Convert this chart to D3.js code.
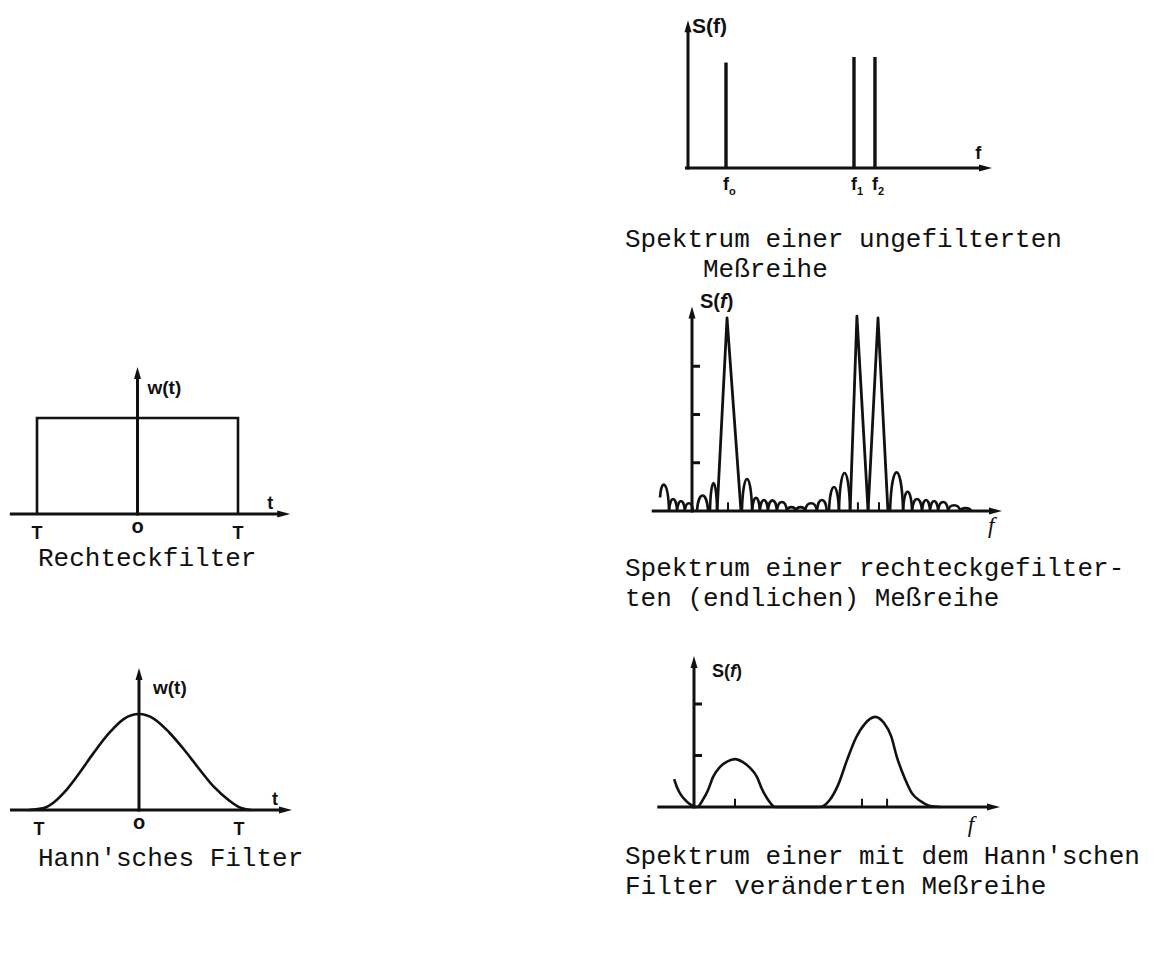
<!DOCTYPE html>
<html>
<head>
<meta charset="utf-8">
<script src="https://cdn.jsdelivr.net/npm/d3@7"></script>
<style>
  body { margin: 0; background: #fff; }
  .caption { font-family: "Liberation Mono", "Courier New", monospace; font-size: 26px; fill: #111; }
  .lbl { font-family: "Liberation Sans", Arial, sans-serif; fill: #111; font-weight: bold; }
  .ital { font-family: "Liberation Serif", "Times New Roman", serif; font-style: italic; fill: #111; }
</style>
</head>
<body>
<div id="chart"></div>
<script>
var svgWidth = 1173;
var svgHeight = 965;
var ink = "#111";

// Rechteckfilter w(t), t in units of T
var rectT = [-1, -1, 1, 1];
var rectW = [0, 1, 1, 0];
var filterTickT = [-1, 0, 1];
var filterTickLabels = ["T", "o", "T"];

// Hann'sches Filter w(t)
var hannT = [-1.1, -0.95, -0.85, -0.75, -0.6, -0.45, -0.3, -0.15, 0, 0.15, 0.3, 0.45, 0.6, 0.75, 0.9, 1.0, 1.12];
var hannW = [0, 0.02, 0.08, 0.18, 0.38, 0.6, 0.8, 0.95, 1, 0.95, 0.81, 0.63, 0.43, 0.24, 0.1, 0.03, 0];

// ungefilterte Messreihe: line spectrum
var lineF = [12.5, 54.6, 61.5];
var lineS = [0.95, 1.0, 1.0];
var lineSub = ["o", "1", "2"];

// rechteckgefiltert: main lobes
var peakLeft = [8.1, 51.0, 56.8];
var peakMid = [11.3, 53.2, 60.0];
var peakRight = [15.8, 56.8, 63.2];
var peakS = [1.0, 1.01, 1.0];

// rechteckgefiltert: side lobes
var lobeStart = [-10.3, -7.4, -4.8, -2.3, 1.6, 5.8, 16.1, 19.4, 21.9, 24.5, 27.4, 30.6, 33.5, 36.5, 40.3, 44.2, 47.4, 63.9, 68.1, 71.0, 74.2, 76.8, 79.4, 82.6, 86.5];
var lobeEnd   = [-7.4, -4.8, -2.3, 0.3, 5.2, 8.1, 19.4, 21.9, 24.5, 27.4, 30.6, 33.5, 36.5, 40.3, 43.5, 47.4, 51.0, 68.1, 71.0, 74.2, 76.8, 79.4, 82.6, 86.5, 90.0];
var lobeS     = [0.135, 0.062, 0.052, 0.04, 0.08, 0.145, 0.166, 0.068, 0.057, 0.055, 0.047, 0.02, 0.02, 0.04, 0.057, 0.124, 0.197, 0.2, 0.1, 0.062, 0.057, 0.052, 0.047, 0.03, 0.015];
var rectSpecTicks = [0.25, 0.5, 0.75];

// Hann-gefiltert
var hannSpecF = [-6.5, -5.6, -4.2, -2.6, -1.0, 0.7, 1.0, 2.9, 4.6, 6.2, 8.5, 10.8, 13.4, 16.0, 18.3, 20.6, 22.2, 24.2, 26.5,
                 41.2, 44.4, 47.1, 50.0, 52.9, 55.9, 59.2, 62.1, 64.4, 66.3, 69.0, 71.2, 73.9, 77.1, 80.4];
var hannSpecS = [0.54, 0.39, 0.23, 0.12, 0.04, 0, 0, 0.14, 0.33, 0.58, 0.78, 0.88, 0.93, 0.87, 0.76, 0.58, 0.35, 0.14, 0,
                 0, 0.14, 0.43, 0.91, 1.34, 1.62, 1.75, 1.63, 1.38, 0.97, 0.54, 0.27, 0.12, 0.02, 0];
var hannSpecMarks = [13.4, 54.9, 63.1];
var hannSpecTicks = [1, 2];

var svg = d3.select("#chart")
  .append("svg")
  .attr("width", svgWidth)
  .attr("height", svgHeight);

svg.append("rect").attr("width", svgWidth).attr("height", svgHeight).attr("fill", "#fff");

function arrowUp(g, x, y) {
  g.append("path")
    .attr("d", `M${x},${y} L${x - 3.5},${y + 12} L${x + 3.5},${y + 12} Z`)
    .attr("fill", ink);
}

function arrowRight(g, x, y) {
  g.append("path")
    .attr("d", `M${x},${y} L${x - 13},${y - 3.5} L${x - 13},${y + 3.5} Z`)
    .attr("fill", ink);
}

// axes with arrows, crossing at (0,0)
function drawAxes(g, x, y, xMin, xMax, yMax) {
  g.append("line")
    .attr("x1", x(xMin)).attr("x2", x(xMax) - 10)
    .attr("y1", y(0)).attr("y2", y(0))
    .attr("stroke", ink).attr("stroke-width", 3.2);
  arrowRight(g, x(xMax), y(0));
  g.append("line")
    .attr("x1", x(0)).attr("x2", x(0))
    .attr("y1", y(0) + 1.5).attr("y2", y(yMax) + 10)
    .attr("stroke", ink).attr("stroke-width", 3);
  arrowUp(g, x(0), y(yMax));
}

function yTicks(g, x, y, ticks) {
  g.selectAll(".ytick")
    .data(ticks)
    .enter()
    .append("line")
    .attr("x1", x(0)).attr("x2", x(0) + 8)
    .attr("y1", d => y(d)).attr("y2", d => y(d))
    .attr("stroke", ink).attr("stroke-width", 3);
}

// ---------- Rechteckfilter ----------
var xRect = d3.scaleLinear().domain([-1, 1]).range([37, 238]);
var yRect = d3.scaleLinear().domain([0, 1]).range([514, 418]);
var gRect = svg.append("g");

gRect.append("path")
  .attr("d", d3.line().x(d => xRect(d[0])).y(d => yRect(d[1]))(d3.zip(rectT, rectW)))
  .attr("fill", "none").attr("stroke", ink).attr("stroke-width", 2.6);
drawAxes(gRect, xRect, yRect, -1.27, 1.52, 1.53);

gRect.append("text").attr("class", "lbl").attr("x", xRect(0) + 10).attr("y", yRect(1.53) + 27)
  .attr("font-size", 19).text("w(t)");
gRect.append("text").attr("class", "lbl").attr("x", xRect(1.29)).attr("y", yRect(0) - 5)
  .attr("font-size", 18).text("t");
gRect.selectAll(".tl")
  .data(filterTickT)
  .enter()
  .append("text")
  .attr("class", "lbl")
  .attr("x", d => xRect(d))
  .attr("y", (d, i) => yRect(0) + (filterTickLabels[i] === "o" ? 19 : 25))
  .attr("text-anchor", "middle")
  .attr("font-size", (d, i) => filterTickLabels[i] === "o" ? 20 : 18)
  .text((d, i) => filterTickLabels[i]);

svg.append("text").attr("class", "caption").attr("x", 38).attr("y", 566).text("Rechteckfilter");

// ---------- Hann'sches Filter ----------
var xHann = d3.scaleLinear().domain([-1, 1]).range([39, 239]);
var yHann = d3.scaleLinear().domain([0, 1]).range([810, 714]);
var gHann = svg.append("g");

gHann.append("path")
  .attr("d", d3.line().curve(d3.curveMonotoneX).x(d => xHann(d[0])).y(d => yHann(d[1]))(d3.zip(hannT, hannW)))
  .attr("fill", "none").attr("stroke", ink).attr("stroke-width", 2.6);
drawAxes(gHann, xHann, yHann, -1.29, 1.53, 1.48);

gHann.append("text").attr("class", "lbl").attr("x", xHann(0) + 14).attr("y", yHann(1.48) + 26)
  .attr("font-size", 19).text("w(t)");
gHann.append("text").attr("class", "lbl").attr("x", xHann(1.33)).attr("y", yHann(0) - 5)
  .attr("font-size", 18).text("t");
gHann.selectAll(".tl")
  .data(filterTickT)
  .enter()
  .append("text")
  .attr("class", "lbl")
  .attr("x", d => xHann(d))
  .attr("y", (d, i) => yHann(0) + (filterTickLabels[i] === "o" ? 19 : 25))
  .attr("text-anchor", "middle")
  .attr("font-size", (d, i) => filterTickLabels[i] === "o" ? 20 : 18)
  .text((d, i) => filterTickLabels[i]);

svg.append("text").attr("class", "caption").attr("x", 38).attr("y", 866).text("Hann'sches Filter");

// ---------- Spektrum, ungefiltert ----------
var xTop = d3.scaleLinear().domain([0, 100]).range([688, 992]);
var yTop = d3.scaleLinear().domain([0, 1]).range([168, 57]);
var gTop = svg.append("g");

drawAxes(gTop, xTop, yTop, -1, 100, 1.33);
gTop.selectAll(".spike")
  .data(lineF)
  .enter()
  .append("line")
  .attr("x1", d => xTop(d)).attr("x2", d => xTop(d))
  .attr("y1", yTop(0)).attr("y2", (d, i) => yTop(lineS[i]))
  .attr("stroke", ink).attr("stroke-width", 3.4);

gTop.append("text").attr("class", "lbl").attr("x", xTop(0) + 4).attr("y", 33)
  .attr("font-size", 21).attr("font-weight", "normal").text("S(f)");
gTop.append("text").attr("class", "lbl").attr("x", xTop(94.5)).attr("y", yTop(0) - 9)
  .attr("font-size", 18).text("f");
var fLab = gTop.selectAll(".fl")
  .data(lineF)
  .enter()
  .append("text")
  .attr("class", "lbl")
  .attr("x", d => xTop(d) - 3)
  .attr("y", yTop(0) + 22)
  .attr("font-size", 18);
fLab.append("tspan").text("f");
fLab.append("tspan").attr("dy", 5).attr("font-size", 11).text((d, i) => lineSub[i]);

svg.append("text").attr("class", "caption").attr("x", 625).attr("y", 247).text("Spektrum einer ungefilterten");
svg.append("text").attr("class", "caption").attr("x", 703).attr("y", 277).text("Meßreihe");

// ---------- Spektrum, rechteckgefiltert ----------
var xMid = d3.scaleLinear().domain([0, 100]).range([692, 1002]);
var yMid = d3.scaleLinear().domain([0, 1]).range([511, 318]);
var gMid = svg.append("g");

drawAxes(gMid, xMid, yMid, -13, 100, 1.06);
yTicks(gMid, xMid, yMid, rectSpecTicks);

// side lobes as small arches
gMid.selectAll(".lobe")
  .data(lobeStart)
  .enter()
  .append("path")
  .attr("d", function(d, i) {
    var x0 = xMid(d), x1 = xMid(lobeEnd[i]);
    var b = yMid(0), s = i === 0 ? yMid(0.07) : b;
    var top = yMid(lobeS[i]);
    var c = (8 * top - s - b) / 6;
    var w = x1 - x0;
    return `M${x0},${s} C${x0 + w * 0.12},${c} ${x1 - w * 0.12},${c} ${x1},${b}`;
  })
  .attr("fill", "none").attr("stroke", ink).attr("stroke-width", 2.6);

// main lobes as triangles
gMid.selectAll(".peak")
  .data(peakMid)
  .enter()
  .append("path")
  .attr("d", (d, i) => d3.line()([
    [xMid(peakLeft[i]), yMid(0)],
    [xMid(d), yMid(peakS[i])],
    [xMid(peakRight[i]), yMid(0)]
  ]))
  .attr("fill", "none").attr("stroke", ink).attr("stroke-width", 2.8)
  .attr("stroke-linejoin", "round");

gMid.selectAll(".mark")
  .data(peakMid)
  .enter()
  .append("line")
  .attr("x1", d => xMid(d) + 1).attr("x2", d => xMid(d) + 1)
  .attr("y1", yMid(0)).attr("y2", yMid(0.045))
  .attr("stroke", ink).attr("stroke-width", 2);

var sMid = gMid.append("text").attr("class", "lbl").attr("x", xMid(0) + 8).attr("y", 308).attr("font-size", 20);
sMid.append("tspan").text("S(");
sMid.append("tspan").attr("font-style", "italic").text("f");
sMid.append("tspan").text(")");
gMid.append("text").attr("class", "ital").attr("x", xMid(95.5)).attr("y", yMid(0) + 22)
  .attr("font-size", 23).text("f");

svg.append("text").attr("class", "caption").attr("x", 625).attr("y", 576).text("Spektrum einer rechteckgefilter-");
svg.append("text").attr("class", "caption").attr("x", 625).attr("y", 606).text("ten (endlichen) Meßreihe");

// ---------- Spektrum, Hann-gefiltert ----------
var xBot = d3.scaleLinear().domain([0, 100]).range([694, 1000]);
var yBot = d3.scaleLinear().domain([0, 1]).range([807, 755.5]);
var gBot = svg.append("g");

drawAxes(gBot, xBot, yBot, -12, 100, 2.93);
yTicks(gBot, xBot, yBot, hannSpecTicks);

gBot.append("path")
  .attr("d", d3.line().curve(d3.curveMonotoneX).x(d => xBot(d[0])).y(d => yBot(d[1]))(d3.zip(hannSpecF, hannSpecS)))
  .attr("fill", "none").attr("stroke", ink).attr("stroke-width", 2.6);

gBot.selectAll(".mark")
  .data(hannSpecMarks)
  .enter()
  .append("line")
  .attr("x1", d => xBot(d)).attr("x2", d => xBot(d))
  .attr("y1", yBot(0)).attr("y2", yBot(0.16))
  .attr("stroke", ink).attr("stroke-width", 2);

var sBot = gBot.append("text").attr("class", "lbl").attr("x", xBot(0) + 18).attr("y", 677).attr("font-size", 18);
sBot.append("tspan").text("S(");
sBot.append("tspan").attr("font-style", "italic").text("f");
sBot.append("tspan").text(")");
gBot.append("text").attr("class", "ital").attr("x", xBot(89.5)).attr("y", yBot(0) + 25)
  .attr("font-size", 23).text("f");

svg.append("text").attr("class", "caption").attr("x", 625).attr("y", 864).text("Spektrum einer mit dem Hann'schen");
svg.append("text").attr("class", "caption").attr("x", 625).attr("y", 894).text("Filter veränderten Meßreihe");
</script>
</body>
</html>
